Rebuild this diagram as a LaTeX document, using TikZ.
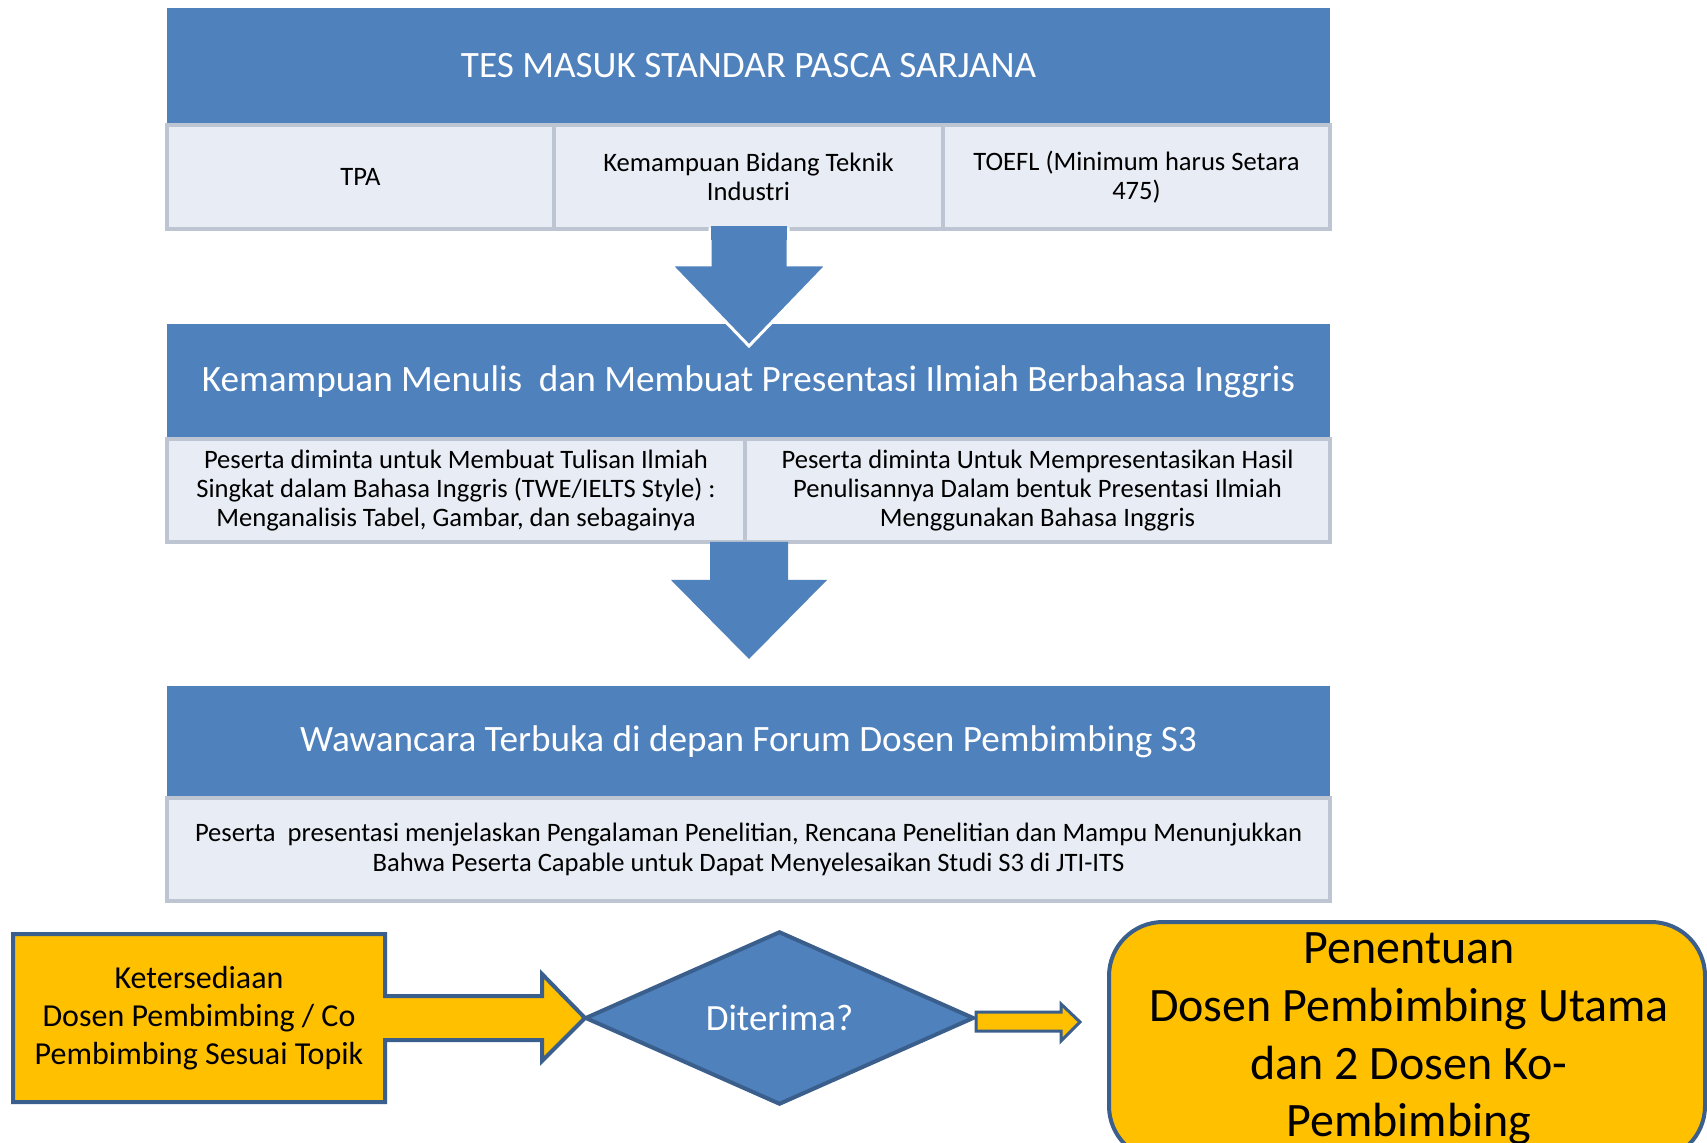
\documentclass[tikz,border=0pt]{standalone}
\usepackage{fontspec}
\setmainfont{Carlito}
\usetikzlibrary{shapes.geometric}
\definecolor{bannerblue}{HTML}{4F81BD}
\definecolor{darkoutline}{HTML}{3B5F8C}
\definecolor{goldfill}{HTML}{FFC000}
\definecolor{cellfill}{HTML}{E8ECF4}
\definecolor{cellborder}{HTML}{BDC5D3}
\begin{document}
\begin{tikzpicture}[x=0.5pt,y=-0.5pt,
  banner/.style={rectangle, fill=bannerblue, text=white, minimum width=581.5pt, inner sep=0pt, align=center},
  cell/.style={rectangle, fill=cellfill, draw=cellborder, line width=2pt, inner sep=0pt, align=center, text=black,
    font=\fontsize{13.3}{14.7}\selectfont},
  blockarrow/.style={fill=bannerblue},
  goldshape/.style={fill=goldfill, draw=darkoutline, line width=2pt, line join=miter},
]
\clip (0,0) rectangle (1707,1143);
\fill[white] (0,0) rectangle (1707,1143);

% ---- stage 1
\node[banner, minimum height=58pt, font=\fontsize{18.6}{22}\selectfont] (b1) at (748.5,66) {TES MASUK STANDAR PASCA SARJANA};
\node[cell, minimum width=193.5pt, minimum height=52pt] (c11) at (360.5,177) {TPA};
\node[cell, minimum width=194.5pt, minimum height=52pt] (c12) at (748.5,177) {Kemampuan Bidang Teknik\\Industri};
\node[cell, minimum width=193.5pt, minimum height=52pt] (c13) at (1136.5,177) {TOEFL (Minimum harus Setara\\475)};

% ---- stage 2
\node[banner, minimum height=57.5pt, font=\fontsize{18.6}{22}\selectfont] (b2) at (748.5,381.5) {Kemampuan Menulis\ \ dan Membuat Presentasi Ilmiah Berbahasa Inggris};
\node[cell, minimum width=289pt, minimum height=51.5pt] (c21) at (456,490.5) {Peserta diminta untuk Membuat Tulisan Ilmiah\\Singkat dalam Bahasa Inggris (TWE/IELTS Style) :\\Menganalisis Tabel, Gambar, dan sebagainya};
\node[cell, minimum width=292.5pt, minimum height=51.5pt] (c22) at (1037.5,490.5) {Peserta diminta Untuk Mempresentasikan Hasil\\Penulisannya Dalam bentuk Presentasi Ilmiah\\Menggunakan Bahasa Inggris};

% arrow 1 (over banner 2, white outline)
\draw[blockarrow, draw=white, line width=1.5pt, line join=miter]
  (710,229) -- (788,229) -- (788,265) -- (827,265) -- (749,346) -- (671,265) -- (710,265) -- cycle;
\fill[bannerblue] (711,226) rectangle (787,240);

% ---- stage 3
\node[banner, minimum height=56pt, font=\fontsize{18.6}{22}\selectfont] (b3) at (748.5,742) {Wawancara Terbuka di depan Forum Dosen Pembimbing S3};
\node[cell, minimum width=581.5pt, minimum height=51.5pt] (c31) at (748.5,849.5) {Peserta\ \ presentasi menjelaskan Pengalaman Penelitian, Rencana Penelitian dan Mampu Menunjukkan\\Bahwa Peserta Capable untuk Dapat Menyelesaikan Studi S3 di JTI-ITS};

% arrow 2
\fill[blockarrow]
  (710,542) -- (788,542) -- (788,580) -- (827,580) -- (749,659) -- (671,580) -- (710,580) -- cycle;

% ---- bottom row
\draw[goldshape]
  (13,934) -- (385,934) -- (385,996) -- (542,996) -- (542,974) -- (585,1018) -- (542,1061)
  -- (542,1040) -- (385,1040) -- (385,1102) -- (13,1102) -- cycle;
\node[align=center, font=\fontsize{16}{19}\selectfont] (avail) at (199,1018) {Ketersediaan\\Dosen Pembimbing / Co\\Pembimbing Sesuai Topik};

\node[diamond, fill=bannerblue, draw=darkoutline, line width=2pt, inner sep=0pt,
  minimum width=194.5pt, minimum height=84pt, text=white, font=\fontsize{18.5}{22}\selectfont] (dec) at (779.5,1018) {Diterima?};

\draw[goldshape, line width=1.5pt]
  (dec.east |- 0,1012) -- (1061,1012) -- (1061,1004) -- (1080,1022) -- (1061,1041) -- (1061,1031) -- (dec.east |- 0,1031) -- cycle;

\node[rectangle, rounded corners=27pt, fill=goldfill, draw=darkoutline, line width=2pt,
  minimum width=298pt, minimum height=119pt, inner sep=0pt] (res) at (1407,1041) {};
\node[align=center, font=\fontsize{24}{28.9}\selectfont] (restext) at (1409,1039) {Penentuan\\Dosen Pembimbing Utama\\dan 2 Dosen Ko-\\Pembimbing};
\end{tikzpicture}
\end{document}
